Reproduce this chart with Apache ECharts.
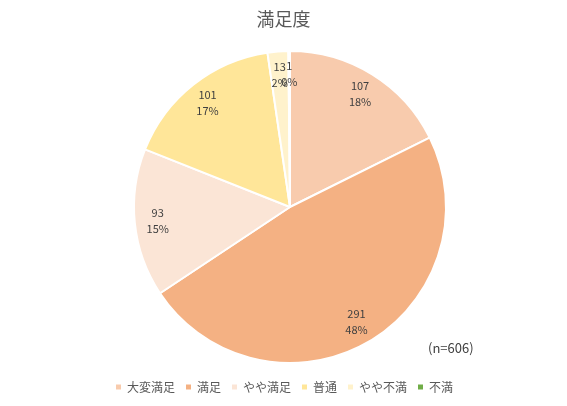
<!DOCTYPE html>
<html>
<head>
<meta charset="utf-8">
<script src="https://cdn.jsdelivr.net/npm/echarts@6/dist/echarts.min.js"></script>
<style>
  html, body { margin: 0; padding: 0; background: #fff; }
  #chart { width: 567px; height: 406px; }
</style>
</head>
<body>
<div id="chart"></div>
<script>
////////////////////
// data
////////////////////
var categories = ['大変満足', '満足', 'やや満足', '普通', 'やや不満', '不満'];
var counts = [107, 291, 93, 101, 13, 1];
var colors = ['#F8CBAD', '#F4B183', '#FBE5D6', '#FFE699', '#FFF2CC', '#70AD47'];

var total = 0;
for (var i = 0; i < counts.length; i++) total += counts[i];

var pie_data = categories.map(function (name, i) {
    return { name: name, value: counts[i], itemStyle: { color: colors[i] } };
});

var font = '"Noto Sans CJK JP", "Noto Sans", sans-serif';
var center = [290, 207];

var mychart = echarts.init(document.getElementById('chart'));
var chart_option = {
    animation: false,
    title: {
        text: '満足度',
        left: 'center',
        top: 5,
        textStyle: { fontFamily: font, fontSize: 18, fontWeight: 'normal', color: '#595959' }
    },
    legend: {
        bottom: 8,
        left: 'center',
        icon: 'rect',
        itemWidth: 7,
        itemHeight: 7,
        itemGap: 9,
        textStyle: { fontFamily: font, fontSize: 12, color: '#595959' },
        data: categories
    },
    graphic: [{
        type: 'text',
        left: 428,
        top: 342,
        style: { text: '(n=606)', fontFamily: font, fontSize: 13, fill: '#404040' }
    }],
    series: [
        {
            // slices
            type: 'pie',
            radius: [0, 156],
            center: center,
            startAngle: 90,
            clockwise: true,
            itemStyle: { borderColor: '#fff', borderWidth: 2 },
            label: { show: false },
            labelLine: { show: false },
            data: pie_data
        },
        {
            // label ring only, so labels sit near the rim
            type: 'pie',
            radius: [104, 156],
            center: center,
            startAngle: 90,
            clockwise: true,
            silent: true,
            legendHoverLink: false,
            avoidLabelOverlap: false,
            minShowLabelAngle: 0,
            itemStyle: { color: 'transparent', borderWidth: 0 },
            label: {
                show: true,
                position: 'inside',
                fontFamily: font,
                fontSize: 11,
                lineHeight: 16,
                color: '#404040',
                formatter: function (p) {
                    return p.value + '\n' + Math.round(p.value / total * 100) + '%';
                }
            },
            labelLayout: { hideOverlap: false },
            labelLine: { show: false },
            data: counts.map(function (v, i) { return { name: categories[i] + ' ', value: v }; })
        }
    ]
};
mychart.setOption(chart_option);
</script>
</body>
</html>
